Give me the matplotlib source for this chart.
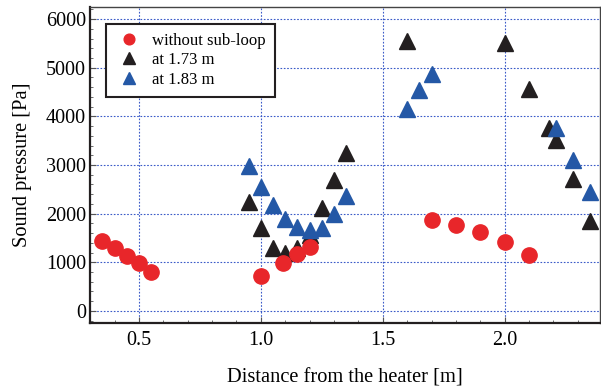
import numpy as np
import matplotlib.pyplot as plt
from matplotlib.ticker import MultipleLocator

plt.rcParams['font.family'] = ['Liberation Serif', 'DejaVu Serif']

# without sub-loop
x_red = [0.35, 0.40, 0.45, 0.50, 0.55, 1.00, 1.09, 1.15, 1.20, 1.70, 1.80, 1.90, 2.00, 2.10]
y_red = [1430, 1290, 1130, 980, 790, 715, 980, 1170, 1320, 1860, 1760, 1620, 1420, 1145]

# at 1.73 m
x_blk = [0.95, 1.00, 1.05, 1.10, 1.15, 1.20, 1.25, 1.30, 1.35,
         1.60, 2.00, 2.10, 2.18, 2.21, 2.28, 2.35]
y_blk = [2230, 1700, 1290, 1185, 1300, 1550, 2110, 2690, 3250,
         5560, 5500, 4570, 3770, 3520, 2710, 1855]

# at 1.83 m
x_blu = [0.95, 1.00, 1.05, 1.10, 1.15, 1.20, 1.25, 1.30, 1.35,
         1.60, 1.65, 1.70, 2.21, 2.28, 2.35]
y_blu = [2980, 2555, 2180, 1890, 1720, 1665, 1700, 1995, 2360,
         4160, 4540, 4880, 3760, 3100, 2450]

fig = plt.figure(figsize=(6.01, 3.92), dpi=100)
ax = fig.add_axes([0.150, 0.176, 0.848, 0.805])

ax.plot(x_blk, y_blk, '^', color='#231f20', markersize=12, zorder=3, label='at 1.73 m')
ax.plot(x_blu, y_blu, '^', color='#2458a6', markersize=12, zorder=4, label='at 1.83 m')
ax.plot(x_red, y_red, 'o', color='#e8262a', markersize=11, zorder=5, label='without sub-loop')

ax.set_xlim(0.30, 2.39)
ax.set_ylim(-250, 6240)
ax.set_xticks([0.5, 1.0, 1.5, 2.0])
ax.set_xticklabels(['0.5', '1.0', '1.5', '2.0'])
ax.set_yticks(range(0, 6001, 1000))
ax.yaxis.set_minor_locator(MultipleLocator(200))
ax.xaxis.set_minor_locator(MultipleLocator(0.1))

ax.grid(True, which='major', color='#3a5ac8', linestyle=(0, (1.5, 1.5)), linewidth=0.8)
ax.tick_params(which='both', direction='in', labelsize=14.5, color='#555555')
ax.tick_params(which='major', length=4)
ax.tick_params(which='minor', length=2)
ax.tick_params(axis='x', pad=6)
ax.tick_params(axis='y', pad=3)

for s in ['left', 'bottom']:
    ax.spines[s].set_linewidth(1.6)
    ax.spines[s].set_color('#231f20')
for s in ['top', 'right']:
    ax.spines[s].set_linewidth(1.0)
    ax.spines[s].set_color('#444444')

ax.set_xlabel('Distance from the heater [m]', fontsize=14.7, labelpad=13)
ax.set_ylabel('Sound pressure [Pa]', fontsize=14.7, labelpad=10)

h, l = ax.get_legend_handles_labels()
order = [2, 0, 1]
leg = ax.legend([h[i] for i in order], [l[i] for i in order], loc='upper left',
                bbox_to_anchor=(0.015, 0.975), fontsize=12, fancybox=False,
                framealpha=1, edgecolor='#231f20', borderpad=0.55, labelspacing=0.2,
                handlelength=1.6, handletextpad=0.6, markerscale=0.7)
leg.get_frame().set_linewidth(1.5)

fig.savefig('out.png', dpi=100)
